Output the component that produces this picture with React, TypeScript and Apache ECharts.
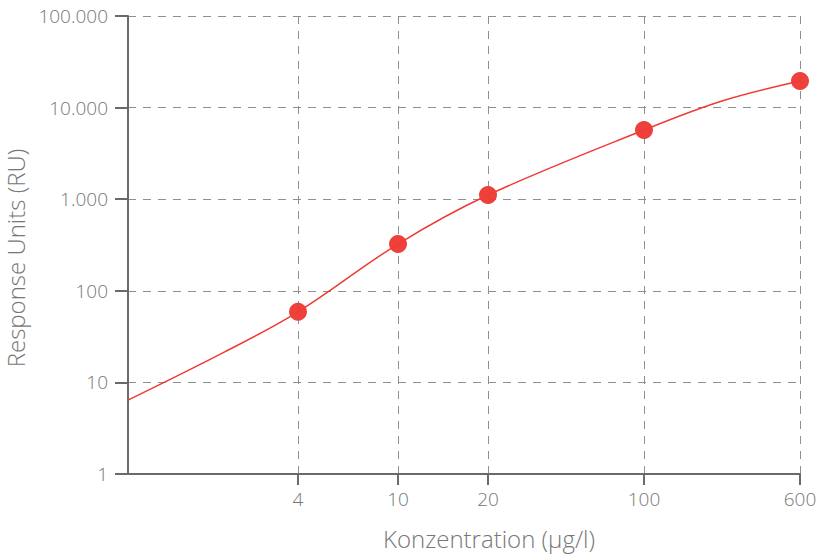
import React, { useEffect, useRef } from "react";
import * as echarts from "echarts";

// Measured values (concentration in µg/l, response in RU)
const concentrations = [4, 10, 20, 100, 600];
const responseUnits = [59, 324, 1110, 5690, 19500];

// Fitted curve
const curveConc = [1, 2.2, 4, 10, 20, 100, 245, 600];
const curveRU = [6.4, 21.5, 59, 324, 1110, 5690, 11800, 19500];

// X tick labels
const xTickLabels = [4, 10, 20, 100, 600];

// Non-uniform concentration scale of the original chart (anchor concentration -> axis unit)
const scaleConc = [1, 4, 10, 20, 100, 600];
const scaleUnit = [0, 170, 270, 360, 516, 672];

function toUnit(c: number): number {
  for (let i = 0; i < scaleConc.length - 1; i++) {
    const c0 = scaleConc[i], c1 = scaleConc[i + 1];
    if (c <= c1 || i === scaleConc.length - 2) {
      const f = (Math.log10(c) - Math.log10(c0)) / (Math.log10(c1) - Math.log10(c0));
      return scaleUnit[i] + f * (scaleUnit[i + 1] - scaleUnit[i]);
    }
  }
  return 0;
}

function deNumber(v: number): string {
  return String(Math.round(v)).replace(/\B(?=(\d{3})+(?!\d))/g, ".");
}

const FONT = "'Open Sans', 'Liberation Sans', sans-serif";
const TEXT = "#777777";
const AXIS = "#6a6a6a";
const GRID = "#8f8f8f";
const RED = "#ee3b36";

export default function App() {
  const ref = useRef<HTMLDivElement>(null);
  useEffect(() => {
    if (!ref.current) return;
    const chart = echarts.init(ref.current, undefined, { renderer: "svg" });
    const tickUnits = xTickLabels.map(toUnit);
    chart.setOption({
      animation: false,
      backgroundColor: "#ffffff",
      grid: {
        left: 128,
        top: 16,
        right: 19,
        bottom: 81,
        containLabel: false,
        outerBoundsMode: "none",
      },
      xAxis: {
        type: "value",
        min: 0,
        max: scaleUnit[scaleUnit.length - 1],
        name: "Konzentration (µg/l)",
        nameLocation: "middle",
        nameGap: 52,
        nameTextStyle: {
          color: TEXT,
          fontSize: 24,
          fontFamily: FONT,
          fontWeight: 300,
          padding: [0, 0, 0, 50],
        },
        axisLine: { show: true, lineStyle: { color: AXIS, width: 2 } },
        axisTick: {
          show: true,
          length: 11,
          customValues: tickUnits,
          lineStyle: { color: AXIS, width: 2 },
        },
        axisLabel: {
          customValues: tickUnits,
          color: TEXT,
          fontSize: 19,
          fontFamily: FONT,
          fontWeight: 300,
          margin: 15,
          formatter: (v: number) => {
            let best = 0;
            for (let i = 0; i < tickUnits.length; i++) {
              if (Math.abs(tickUnits[i] - v) < Math.abs(tickUnits[best] - v)) best = i;
            }
            return String(xTickLabels[best]);
          },
        },
        splitLine: { show: true, lineStyle: { color: GRID, width: 1, type: [8, 7] } },
      },
      yAxis: {
        type: "log",
        logBase: 10,
        min: 1,
        max: 100000,
        name: "Response Units (RU)",
        nameLocation: "middle",
        nameGap: 93,
        nameTextStyle: {
          color: TEXT,
          fontSize: 24,
          fontFamily: FONT,
          fontWeight: 300,
          padding: [0, 26, 0, 0],
        },
        axisLine: { show: true, lineStyle: { color: AXIS, width: 2 } },
        axisTick: { show: true, length: 13, lineStyle: { color: AXIS, width: 2 } },
        axisLabel: {
          color: TEXT,
          fontSize: 19,
          fontFamily: FONT,
          fontWeight: 300,
          margin: 20,
          formatter: (v: number) => deNumber(v),
        },
        splitLine: { show: true, lineStyle: { color: GRID, width: 1, type: [8, 7] } },
      },
      series: [
        {
          type: "line",
          data: curveConc.map((c, i) => [toUnit(c), curveRU[i]]),
          showSymbol: false,
          smooth: 0.35,
          lineStyle: { color: RED, width: 1.5 },
          silent: true,
          z: 3,
        },
        {
          type: "scatter",
          data: concentrations.map((c, i) => [toUnit(c), responseUnits[i]]),
          symbol: "circle",
          symbolSize: 18,
          itemStyle: { color: RED, opacity: 0.97 },
          z: 4,
        },
      ],
    });
    return () => chart.dispose();
  }, []);
  return (
    <div
      ref={ref}
      style={{ position: "fixed", left: 0, top: 0, width: 819, height: 555 }}
    />
  );
}
